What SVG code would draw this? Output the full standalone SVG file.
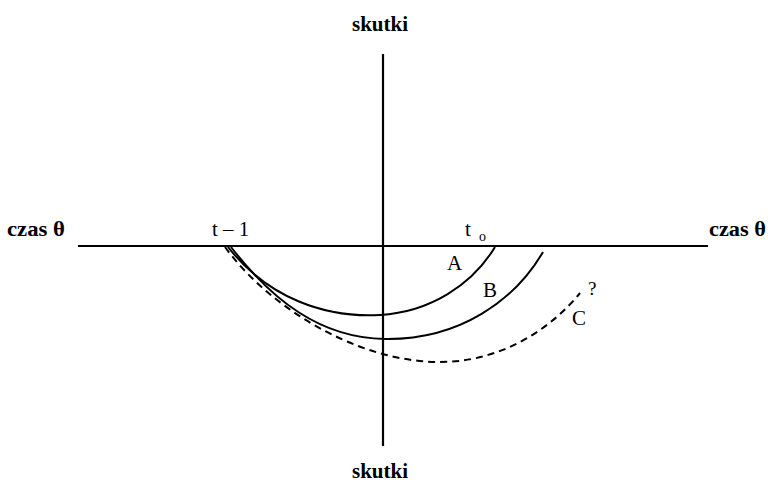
<svg xmlns="http://www.w3.org/2000/svg" width="768" height="486" viewBox="0 0 768 486">
<style>
.t{font-family:"Liberation Serif","DejaVu Serif",serif;font-size:21px;fill:#000}
.b{font-weight:bold}
.ax{stroke:#000;stroke-width:2.2;fill:none}
.c{stroke:#000;stroke-width:2;fill:none}
.d{stroke:#000;stroke-width:2;fill:none;stroke-dasharray:7,5}
</style>
<rect width="768" height="486" fill="#fff"/>
<g id="axes">
<line class="ax" x1="78" y1="246" x2="708" y2="246"/>
<line class="ax" x1="383" y1="54" x2="383" y2="446"/>
</g>
<g id="connectors">
<path id="curveA" class="c" d="M228,247 C268,298 325,318 380,315 C430,312 472,285 495,247"/>
<path id="curveB" class="c" d="M231,247 C272,300 320,338 385,339 C460,340 515,300 543,252"/>
<path id="curveC" class="d" d="M225,247 C267,305 355,362 440,362 C500,362 550,330 580,293"/>
</g>
<g id="labels">
<text class="t b" x="7" y="236" textLength="58" lengthAdjust="spacingAndGlyphs">czas θ</text>
<text class="t b" x="709" y="236" textLength="57" lengthAdjust="spacingAndGlyphs">czas θ</text>
<text class="t" x="212" y="236">t – 1</text>
<text class="t" x="465" y="236">t</text>
<text class="t" x="479" y="241" style="font-size:14px">o</text>
<text class="t b" x="380" y="31" text-anchor="middle">skutki</text>
<text class="t b" x="380" y="478" text-anchor="middle">skutki</text>
<text class="t" x="447" y="270">A</text>
<text class="t" x="483" y="297">B</text>
<text class="t" x="572" y="325">C</text>
<text class="t" x="588" y="295" style="font-size:19px">?</text>
</g>
</svg>
